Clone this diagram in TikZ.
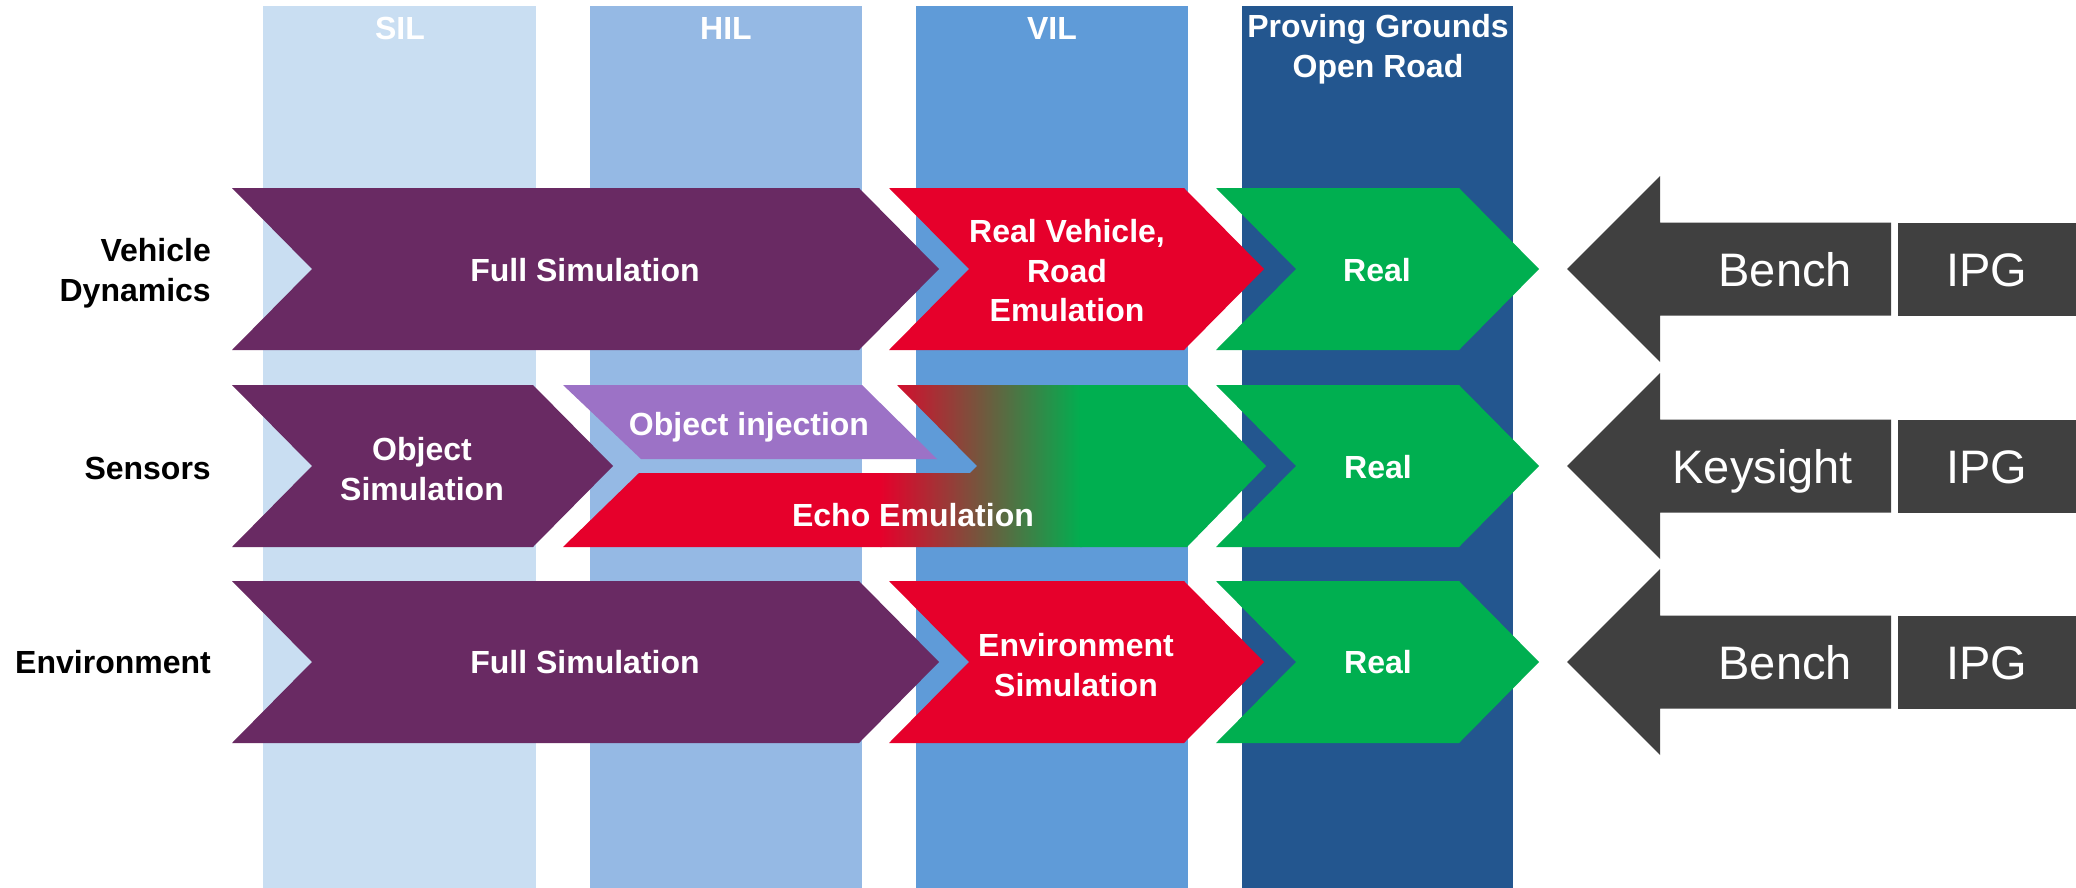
\documentclass[tikz,border=0pt]{standalone}
\usepackage{fontspec}
\setmainfont{Liberation Sans}
\definecolor{silblue}{HTML}{C9DEF2}
\definecolor{hilblue}{HTML}{95B9E4}
\definecolor{vilblue}{HTML}{5F9BD8}
\definecolor{pgblue}{HTML}{23568F}
\definecolor{simpurple}{HTML}{692A63}
\definecolor{emured}{HTML}{E6002B}
\definecolor{realgreen}{HTML}{00AF50}
\definecolor{injlav}{HTML}{9C72C6}
\definecolor{toolgray}{HTML}{404040}
\tikzset{
  lbl/.style={text=white, font=\fontsize{32}{39.5}\selectfont\bfseries, align=center, inner sep=0pt},
  rowlbl/.style={text=black, font=\fontsize{32}{39.5}\selectfont\bfseries, align=right, anchor=east, inner sep=0pt},
  toollbl/.style={text=white, font=\fontsize{47}{56}\selectfont, inner sep=0pt},
}
% chevron: colour, left x, body end x, top y, bottom y
\newcommand\chevshape[5]{%
  \fill[#1] (#2,#4) -- (#3,#4) -- ({#3+80},{(#4+#5)/2}) -- (#3,#5) -- (#2,#5) -- ({#2+80},{(#4+#5)/2}) -- cycle;}
% tool arrow pointing left, with a box behind it: middle y
\newcommand\toolarrow[1]{%
  \fill[toolgray] (1567,#1) -- (1660,{#1-93}) -- (1660,{#1-46.5}) -- (1891,{#1-46.5})
    -- (1891,{#1+46.5}) -- (1660,{#1+46.5}) -- (1660,{#1+93}) -- cycle;
  \fill[toolgray] (1898,{#1-46.5}) rectangle (2076,{#1+46.5});}
\begin{document}
\begin{tikzpicture}[x=1pt,y=-1pt]
\useasboundingbox (0,0) rectangle (2076,888);
\fill[white] (0,0) rectangle (2076,888);

% test stage columns
\fill[silblue] (263,6) rectangle (536,888);
\fill[hilblue] (590,6) rectangle (862,888);
\fill[vilblue] (916,6) rectangle (1188,888);
\fill[pgblue]  (1242,6) rectangle (1513,888);
\node[lbl] (sil) at (400,28) {SIL};
\node[lbl] (hil) at (726,28) {HIL};
\node[lbl] (vil) at (1052,28) {VIL};
\node[lbl] (pg)  at (1378,49) {Proving Grounds\\Open Road};

% row labels
\node[rowlbl] (rowvd)  at (211,273) {Vehicle\\Dynamics};
\node[rowlbl] (rowsen) at (211,468) {Sensors};
\node[rowlbl] (rowenv) at (211,662) {Environment};

% vehicle dynamics row
\chevshape{simpurple}{232}{859}{188}{350}
\chevshape{emured}{889}{1184}{188}{350}
\chevshape{realgreen}{1216}{1459}{188}{350}
\node[lbl] (vdsim)  at (585,270)  {Full Simulation};
\node[lbl] (vdemu)  at (1067,271) {Real Vehicle,\\Road\\Emulation};
\node[lbl] (vdreal) at (1377,270) {Real};

% sensors row
\chevshape{simpurple}{232}{533}{385}{547}
\fill[injlav] (563,385) -- (862,385) -- (937,459) -- (641,459) -- cycle;
\begin{scope}
  \clip (563,547) -- (639,473) -- (970,473) -- (977,466) -- (897,385) -- (1187,385)
    -- (1266,466) -- (1187,547) -- cycle;
  \fill[emured] (560,380) rectangle (882,550);
  \shade[left color=emured, right color=realgreen] (880,380) rectangle (1082,550);
  \fill[realgreen] (1080,380) rectangle (1270,550);
\end{scope}
\chevshape{realgreen}{1216}{1459}{385}{547}
\node[lbl] (sensim) at (422,469) {Object\\Simulation};
\node[lbl, anchor=base] (seninj) at (749,435) {Object injection};
\node[lbl, anchor=base] (senemu) at (913,526) {Echo Emulation};
\node[lbl] (senreal) at (1378,467) {Real};

% environment row
\chevshape{simpurple}{232}{859}{581}{743}
\chevshape{emured}{889}{1184}{581}{743}
\chevshape{realgreen}{1216}{1459}{581}{743}
\node[lbl] (envsim)  at (585,662)  {Full Simulation};
\node[lbl] (envemu)  at (1076,665) {Environment\\Simulation};
\node[lbl] (envreal) at (1378,662) {Real};

% tools
\toolarrow{269}
\toolarrow{466}
\toolarrow{662}
\node[toollbl, anchor=base east] (bench1) at (1852,286) {Bench};
\node[toollbl, anchor=base] (ipg1) at (1987,286) {IPG};
\node[toollbl, anchor=base east] (keys) at (1853,483) {Keysight};
\node[toollbl, anchor=base] (ipg2) at (1987,483) {IPG};
\node[toollbl, anchor=base east] (bench3) at (1852,679) {Bench};
\node[toollbl, anchor=base] (ipg3) at (1987,679) {IPG};
\end{tikzpicture}
\end{document}
